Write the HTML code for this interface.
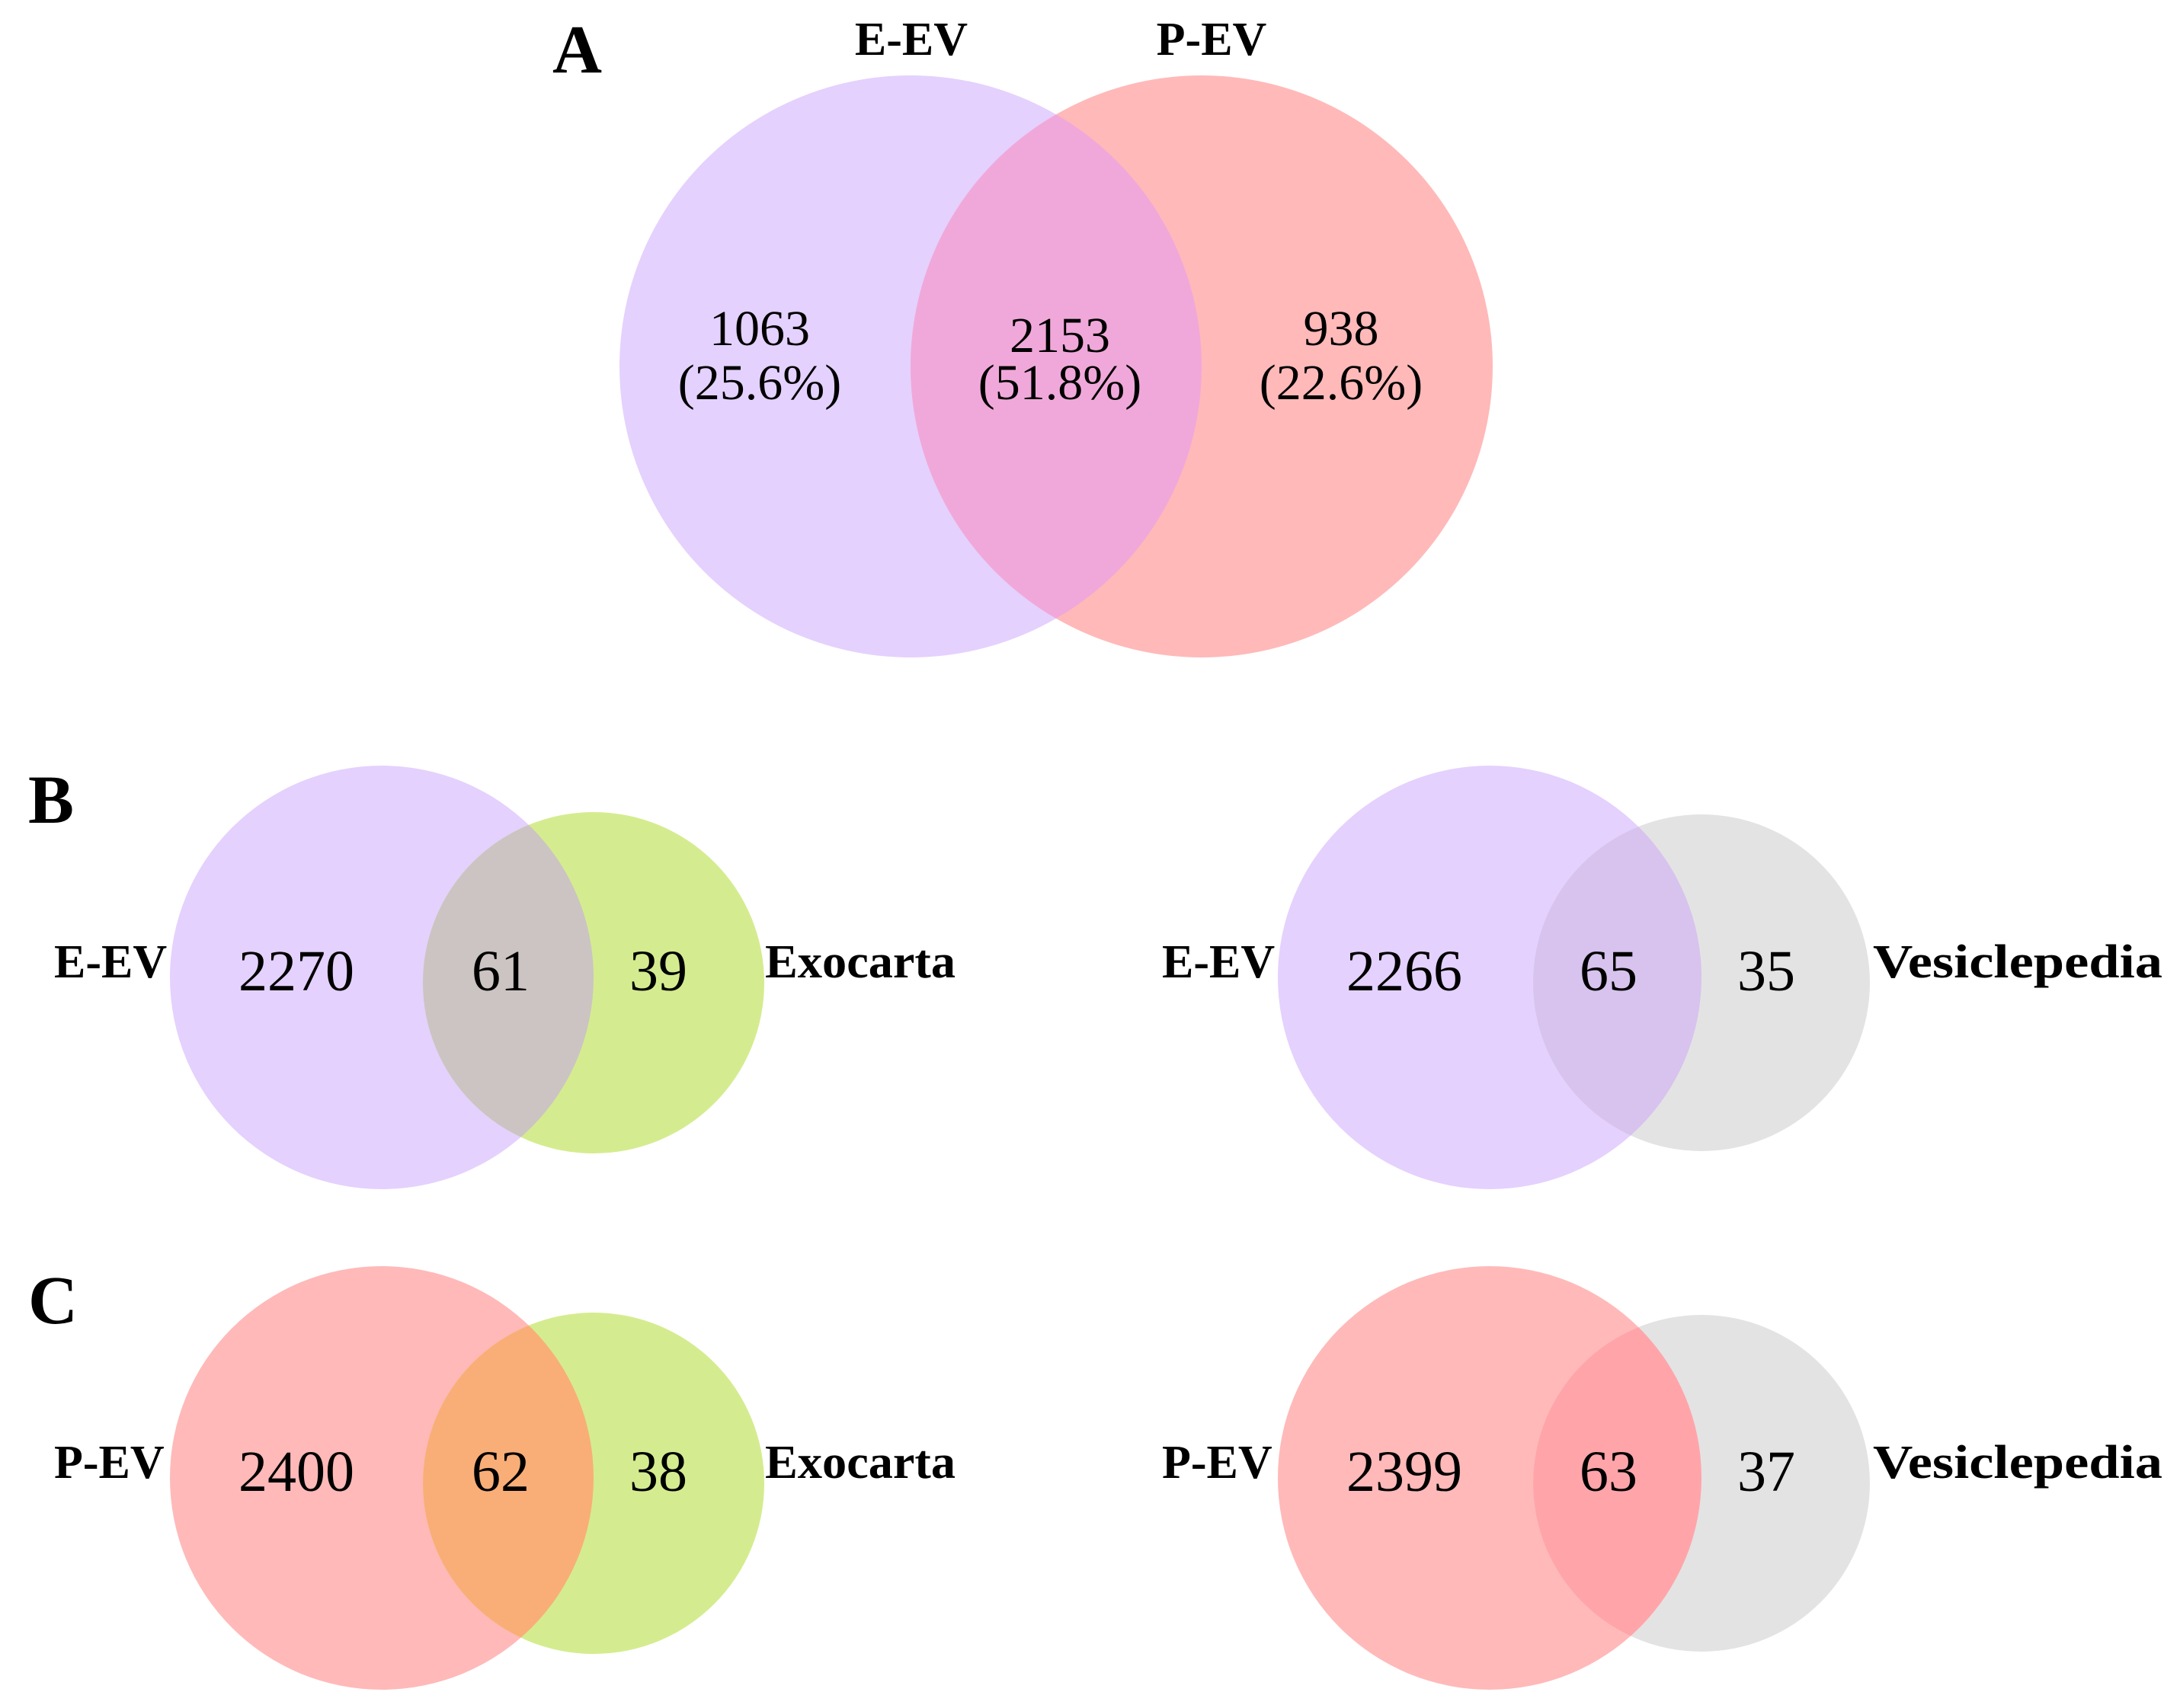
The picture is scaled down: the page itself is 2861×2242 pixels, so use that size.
<!DOCTYPE html>
<html><head><meta charset="utf-8"><style>
html,body{margin:0;padding:0;background:#fff}
svg{display:block}
text{font-family:"Liberation Serif",serif;fill:#000}
</style></head><body>
<svg id="chart" width="2861" height="2242" viewBox="0 0 2861 2242" xmlns="http://www.w3.org/2000/svg">
<defs></defs>
<g id="root"></g>
</svg>
<script>
// Data
const panelALabels = ["E-EV", "P-EV"];
const panelAValues = [1063, 2153, 938];
const panelAPercents = ["(25.6%)", "(51.8%)", "(22.6%)"];
const pairLeftLabels = ["E-EV", "E-EV", "P-EV", "P-EV"];
const pairRightLabels = ["Exocarta", "Vesiclepedia", "Exocarta", "Vesiclepedia"];
const pairValues = [[2270, 61, 39], [2266, 65, 35], [2400, 62, 38], [2399, 63, 37]];

const NS = "http://www.w3.org/2000/svg";
const root = document.getElementById("root");
const defs = document.querySelector("defs");
function mk(tag, attrs, parent) {
  const e = document.createElementNS(NS, tag);
  for (const k in attrs) e.setAttribute(k, attrs[k]);
  (parent || root).appendChild(e);
  return e;
}
function txt(str, x, y, size, bold, anchor, name, parent) {
  const t = mk("text", {x: x, y: y, "font-size": size, "font-weight": bold ? "bold" : "normal", "text-anchor": anchor || "middle"}, parent);
  t.textContent = str;
  
  
  return t;
}
let clipId = 0;
function venn(c1, c2, col1, col2, colO, name) {
  const g = mk("g", {});
  
  
  const a = mk("circle", {cx: c1.x, cy: c1.y, r: c1.r, fill: col1}, g);
  
  
  const b = mk("circle", {cx: c2.x, cy: c2.y, r: c2.r, fill: col2}, g);
  
  
  const id = "clip" + (clipId++);
  const cp = mk("clipPath", {id: id}, defs);
  mk("circle", {cx: c1.x, cy: c1.y, r: c1.r}, cp);
  const o = mk("circle", {cx: c2.x, cy: c2.y, r: c2.r, fill: colO, "clip-path": "url(#" + id + ")"}, g);
  
  
  return g;
}

// Panel A
const PURPLE = "#e4d1fd", PINK = "#ffb9b9", GREEN = "#d4ec8f", GRAY = "#e3e3e3";
venn({x: 1195, y: 481, r: 382}, {x: 1577, y: 481, r: 382}, PURPLE, PINK, "#f0a8da", "venn-a");
txt("A", 725, 95, 90, true, "start", "panel-a-label");
txt(panelALabels[0], 1196, 72, 62, true, "middle", "set-label-e-ev");
txt(panelALabels[1], 1590, 72, 62, true, "middle", "set-label-p-ev");
const aX = [997, 1391, 1760];
const aY = [453, 462, 453];
panelAValues.forEach((v, i) => {
  txt(String(v), aX[i], aY[i], 66, false, "middle", "count-a-" + i);
  txt(panelAPercents[i], aX[i], 524, 66, false, "middle", "percent-a-" + i);
});

// Panels B & C
txt("B", 37, 1080, 90, true, "start", "panel-b-label");
txt("C", 37, 1737, 90, true, "start", "panel-c-label");
const pairs = [
  {ox: 0, oy: 0, big: PURPLE, small: GREEN, ov: "#cbc4c3"},
  {ox: 1454, oy: 0, big: PURPLE, small: GRAY, ov: "#d7c3ee"},
  {ox: 0, oy: 657, big: PINK, small: GREEN, ov: "#f9ae78"},
  {ox: 1454, oy: 657, big: PINK, small: GRAY, ov: "#ffa5aa"}
];
pairs.forEach((p, i) => {
  const smallR = (i % 2 === 0) ? 224 : 221;
  venn({x: 501 + p.ox, y: 1283 + p.oy, r: 278}, {x: 779 + p.ox, y: 1290 + p.oy, r: smallR}, p.big, p.small, p.ov, "venn-pair-" + i);
  txt(pairLeftLabels[i], 71 + p.ox, 1283 + p.oy, 62, true, "start", "left-set-label-" + i);
  const rl = txt(pairRightLabels[i], 1004 + p.ox, 1283 + p.oy, 62, true, "start", "right-set-label-" + i);
  rl.setAttribute("textLength", (i % 2 === 0) ? 250 : 380);
  rl.setAttribute("lengthAdjust", "spacingAndGlyphs");
  const xs = [389, 657, 864];
  pairValues[i].forEach((v, j) => {
    txt(String(v), xs[j] + p.ox, 1300 + p.oy, 76, false, "middle", "count-pair-" + i + "-" + j);
  });
});
</script>
</body></html>
